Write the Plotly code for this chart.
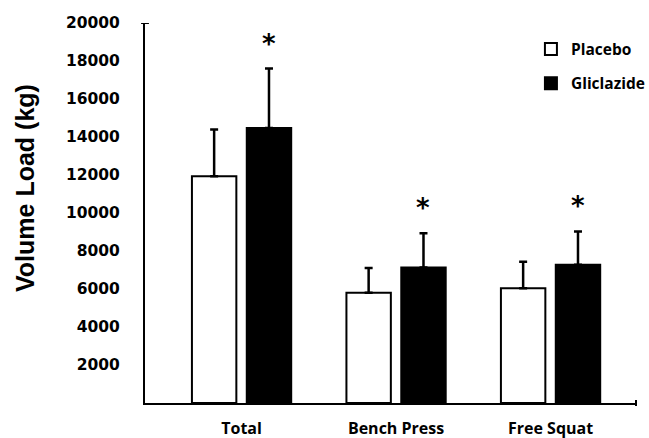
import plotly.graph_objects as go

# Volume load per exercise (kg), mean and SD
categories = ["Total", "Bench Press", "Free Squat"]
placebo_mean = [11940, 5800, 6040]
placebo_sd = [2460, 1310, 1390]
gliclazide_mean = [14470, 7130, 7270]
gliclazide_sd = [3130, 1810, 1760]
significant = [True, True, True]
y_ticks = [2000, 4000, 6000, 8000, 10000, 12000, 14000, 16000, 18000, 20000]

x_pos = list(range(len(categories)))
BARGAP = 0.29
BARGROUPGAP = 0.19
slot = (1 - BARGAP) / 2

fig = go.Figure()
fig.add_trace(go.Bar(
    x=x_pos, y=placebo_mean, name="Placebo", legendgroup="p",
    marker=dict(color="white", line=dict(color="black", width=2)),
    error_y=dict(type="data", array=placebo_sd, symmetric=False,
                 arrayminus=[0] * len(placebo_sd),
                 color="black", thickness=2.5, width=4),
))
fig.add_trace(go.Bar(
    x=x_pos, y=gliclazide_mean, name="Gliclazide", legendgroup="g",
    marker=dict(color="black", line=dict(color="black", width=2)),
    error_y=dict(type="data", array=gliclazide_sd, symmetric=False,
                 arrayminus=[0] * len(gliclazide_sd),
                 color="black", thickness=2.5, width=4),
))

# significance markers above the gliclazide bars
for i, (m, s, sig) in enumerate(zip(gliclazide_mean, gliclazide_sd, significant)):
    if sig:
        fig.add_annotation(
            x=i + slot / 2, y=m + s, text="*", showarrow=False,
            yanchor="bottom", yshift=8,
            font=dict(family="DejaVu Sans", size=26, color="black", weight="bold"),
        )

# y-axis title
fig.add_annotation(
    xref="paper", yref="paper", x=-0.243, y=0.565, text="<b>Volume Load (kg)</b>",
    textangle=-90, showarrow=False, xanchor="center", yanchor="middle",
    font=dict(family="Liberation Sans", size=25, color="black"),
)

# end caps on the axis lines
fig.add_shape(type="line", xref="paper", yref="y", x0=-0.008, x1=0.008,
              y0=20000, y1=20000, line=dict(color="black", width=2))
fig.add_shape(type="line", xref="paper", yref="paper", x0=1, x1=1,
              y0=-0.008, y1=0.008, line=dict(color="black", width=2))

fig.update_layout(
    width=649, height=438,
    margin=dict(l=145, r=13, t=23, b=35, autoexpand=False),
    paper_bgcolor="white", plot_bgcolor="white",
    barmode="group", bargap=BARGAP, bargroupgap=BARGROUPGAP,
    showlegend=True,
    legend=dict(
        x=0.786, y=0.975, xanchor="left", yanchor="top",
        font=dict(family="Open Sans", size=15.5, color="black", weight="bold"),
        tracegroupgap=11, traceorder="grouped", bgcolor="rgba(0,0,0,0)",
    ),
    xaxis=dict(
        range=[-0.625, 2.553], tickvals=x_pos, ticktext=categories,
        showline=True, linecolor="black", linewidth=2, showgrid=False,
        zeroline=False, ticks="", ticklabelstandoff=10, automargin=False,
        tickfont=dict(family="Open Sans", size=16, color="black", weight="bold"),
    ),
    yaxis=dict(
        range=[0, 20000], tickvals=y_ticks, tickformat="d",
        showline=True, linecolor="black", linewidth=2, showgrid=False,
        zeroline=False, ticks="", ticklabelstandoff=20, automargin=False,
        tickfont=dict(family="DejaVu Sans", size=15.5, color="black", weight="bold"),
    ),
)

fig.write_html("out.html")
